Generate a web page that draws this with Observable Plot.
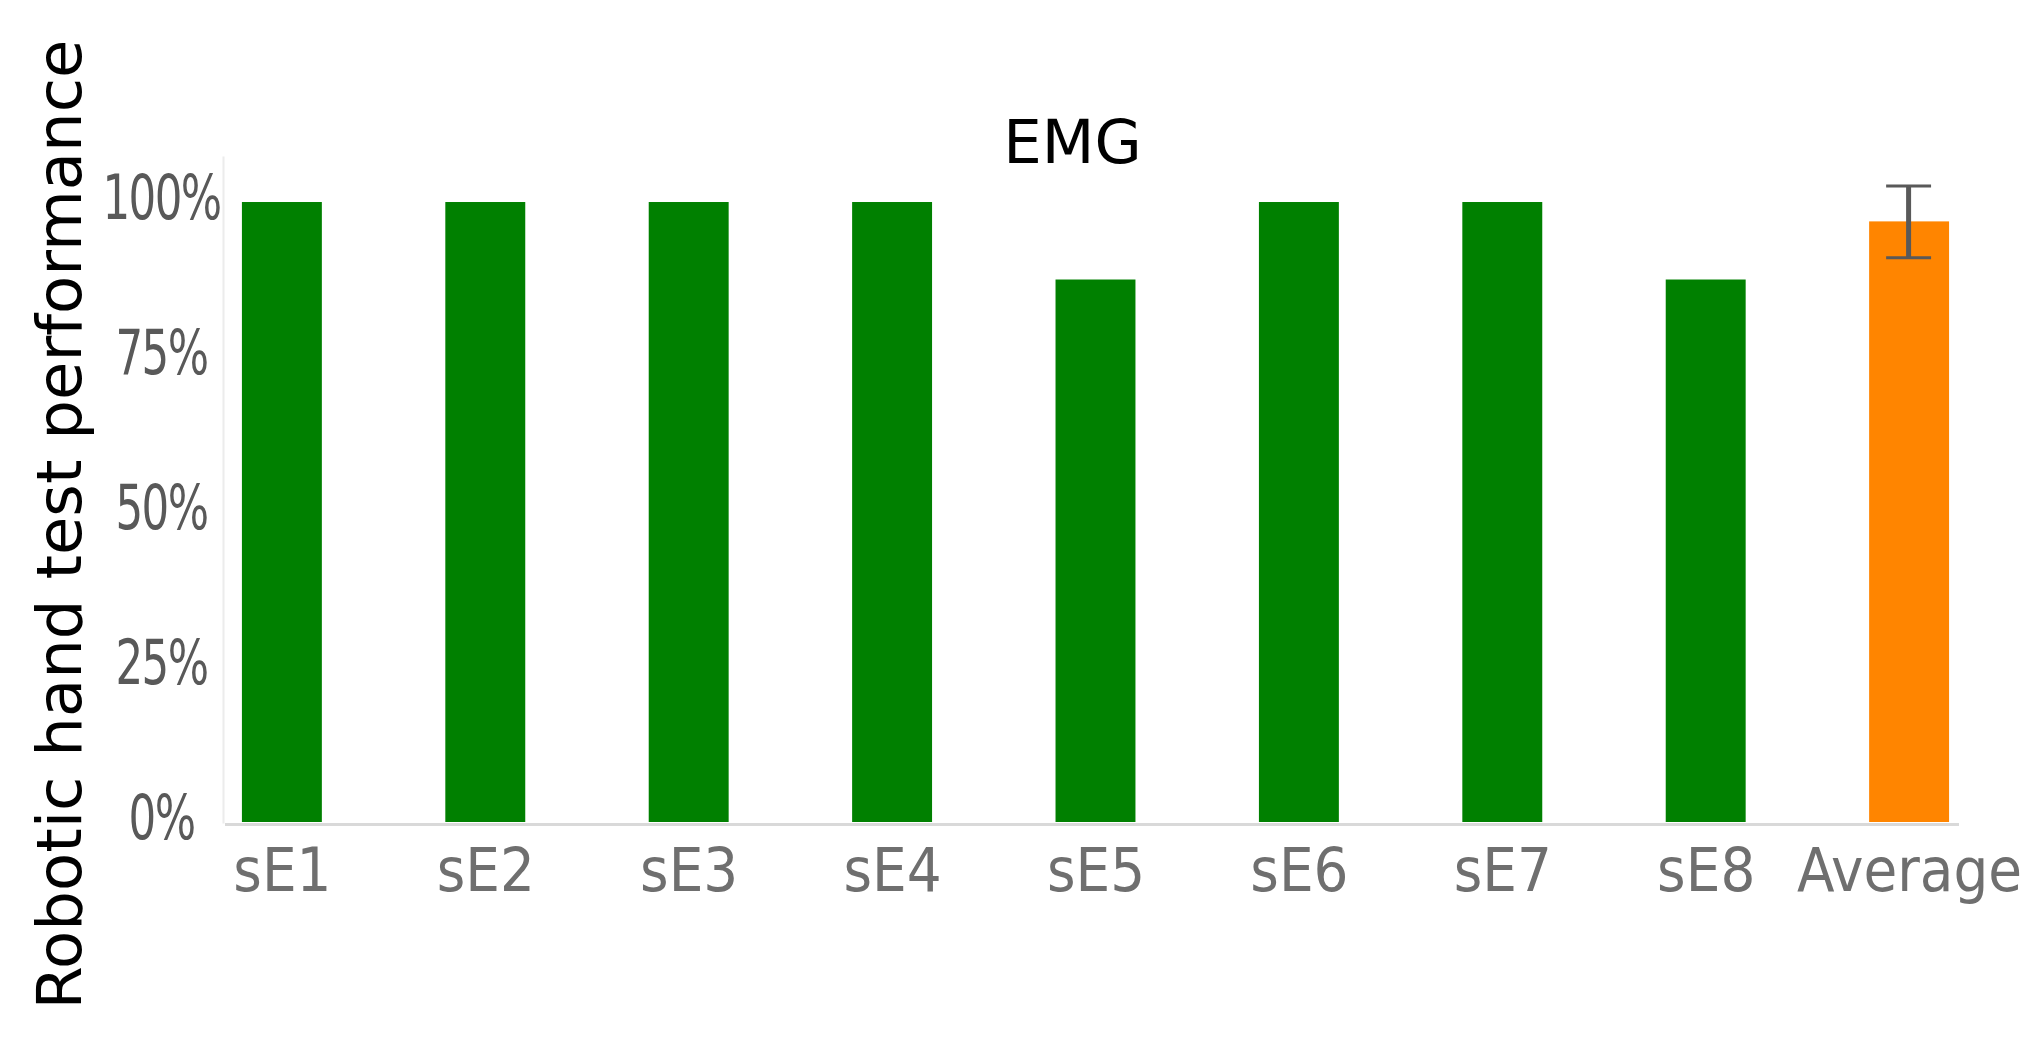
<!DOCTYPE html>
<html>
<head>
<meta charset="utf-8">
<script src="https://cdn.jsdelivr.net/npm/d3@7"></script>
<script src="https://cdn.jsdelivr.net/npm/@observablehq/plot@0.6"></script>
<style>
  html, body { margin: 0; padding: 0; background: #ffffff; }
  #chart svg { display: block; }
  g[aria-label="y-axis tick label"] text { letter-spacing: -2px; }
  g[aria-label="x-axis tick label"] text { font-stretch: condensed; }
</style>
</head>
<body>
<div id="chart"></div>
<script>
// ---- data ----
const categories = ["sE1", "sE2", "sE3", "sE4", "sE5", "sE6", "sE7", "sE8", "Average"];
const values = [1, 1, 1, 1, 0.875, 1, 1, 0.875, 0.96875];
const groups = ["subject", "subject", "subject", "subject", "subject", "subject", "subject", "subject", "average"];
const errors = [0, 0, 0, 0, 0, 0, 0, 0, 0.058];
const yTicks = [0, 0.25, 0.5, 0.75, 1];
const title = "EMG";
const yLabel = "Robotic hand test performance";

const rows = categories.map((c, i) => ({category: c, value: values[i], group: groups[i], error: errors[i]}));
const errRows = rows.filter(d => d.error > 0);

const chart = Plot.plot({
  width: 2037,
  height: 1060,
  marginLeft: 225,
  marginRight: 78,
  marginTop: 157,
  marginBottom: 238,
  style: {background: "#ffffff", fontFamily: "'DejaVu Sans', sans-serif"},
  x: {domain: categories, paddingInner: 0.607, paddingOuter: 0.066, align: 0.63, round: false},
  y: {domain: [0, 1.0726]},
  color: {domain: ["subject", "average"], range: ["#008000", "#ff8500"]},
  marks: [
    Plot.frame({anchor: "left", stroke: "#ececec", strokeWidth: 2, dx: -2}),
    Plot.barY(rows, {x: "category", y: "value", fill: "group"}),
    Plot.ruleY([0], {stroke: "#d9d9d9", strokeWidth: 3, dy: 2}),
    Plot.ruleX(errRows, {x: "category", y1: d => d.value - d.error, y2: d => d.value + d.error, stroke: "#595959", strokeWidth: 5, dx: -1}),
    Plot.tickY(errRows, {x: "category", y: d => d.value - d.error, stroke: "#595959", strokeWidth: 3, insetLeft: 17, insetRight: 18}),
    Plot.tickY(errRows, {x: "category", y: d => d.value + d.error, stroke: "#595959", strokeWidth: 3, insetLeft: 17, insetRight: 18}),
    Plot.axisY({
      ticks: yTicks,
      tickFormat: d3.format(".0%"),
      tickSize: 0,
      tickPadding: 64,
      textAnchor: "middle",
      dy: -3,
      fontSize: 62,
      fontFamily: "'Liberation Sans Narrow', 'DejaVu Sans Condensed', sans-serif",
      color: "#595959",
      label: null
    }),
    Plot.axisX({
      tickSize: 0,
      tickPadding: 25,
      fontSize: 61,
      fontFamily: "'DejaVu Sans Condensed', 'DejaVu Sans', sans-serif",
      color: "#6f6f6f",
      label: null
    }),
    Plot.text([title], {frameAnchor: "top", textAnchor: "middle", lineAnchor: "bottom", dx: -20, dy: 5, fontSize: 61, fontFamily: "'DejaVu Sans', sans-serif", fill: "#000000"}),
    Plot.text([yLabel], {frameAnchor: "left", textAnchor: "middle", rotate: -90, lineAnchor: "bottom", dx: -145, dy: 34.5, fontSize: 62.5, fontFamily: "'DejaVu Sans', sans-serif", fill: "#000000"})
  ]
});

// narrow the y tick labels horizontally (the reference uses a condensed face)
d3.select(chart).selectAll('g[aria-label="y-axis tick label"] text').each(function() {
  const t = this.getAttribute("transform") || "";
  this.setAttribute("transform", t + " scale(0.78,1)");
});

document.getElementById("chart").appendChild(chart);
</script>
</body>
</html>
